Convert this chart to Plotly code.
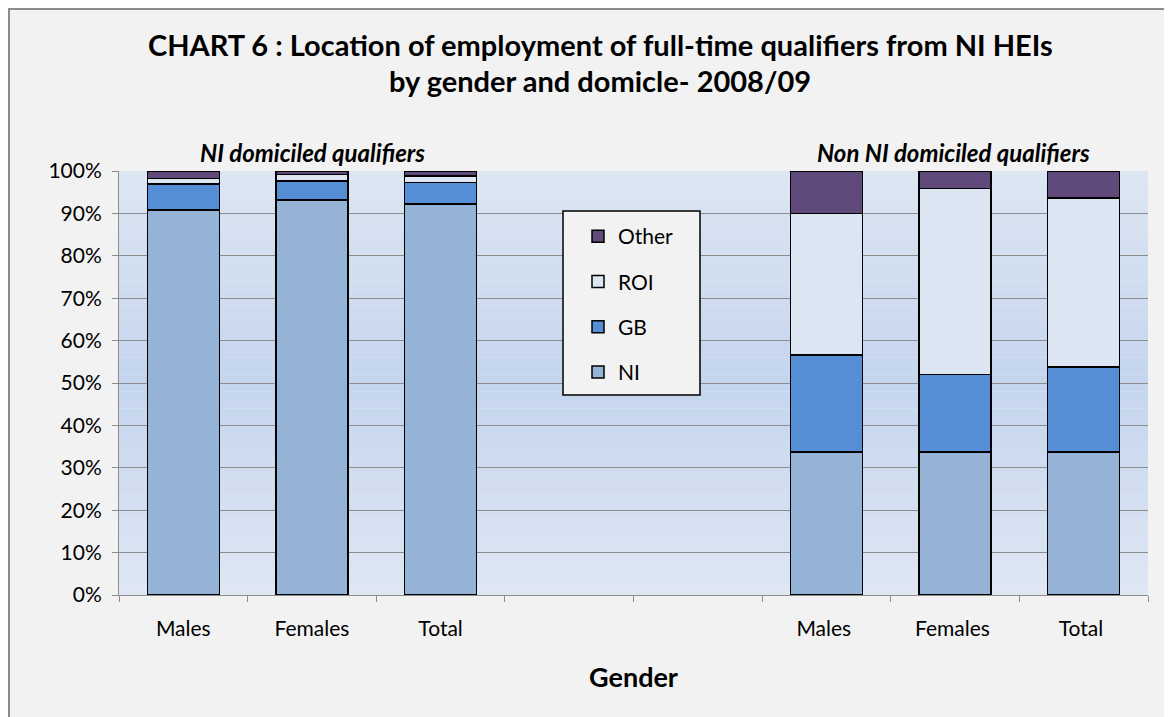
import plotly.graph_objects as go

categories = ["Males", "Females", "Total", " ", "  ", "Males ", "Females ", "Total "]
ni_vals = [90.8, 93.2, 92.2, None, None, 33.7, 33.7, 33.7]
gb_vals = [6.1, 4.5, 5.1, None, None, 22.9, 18.3, 20.1]
roi_vals = [1.3, 1.5, 1.5, None, None, 33.4, 43.9, 39.8]
other_vals = [1.8, 0.8, 1.2, None, None, 10.0, 4.1, 6.4]
series = [("NI", ni_vals, "#95b3d7", 4), ("GB", gb_vals, "#558ed5", 3),
          ("ROI", roi_vals, "#dce6f2", 2), ("Other", other_vals, "#604a7b", 1)]
y_ticks = [0, 10, 20, 30, 40, 50, 60, 70, 80, 90, 100]
y_ticklabels = [f"{v}%" for v in y_ticks]
title_lines = ["CHART 6 : Location of employment of full-time qualifiers from NI HEIs",
               "by gender and domicle- 2008/09"]
group_labels = ["NI domiciled qualifiers", "Non NI domiciled qualifiers"]

FONT = "Lato, Open Sans, sans-serif"

fig = go.Figure()
for name, vals, col, rank in series:
    fig.add_trace(go.Bar(
        x=categories, y=vals, name=name, legendgroup=name, legendrank=rank,
        marker=dict(color=col, line=dict(color="#000000", width=1.5)),
    ))

OFF = 8  # page offset of the figure
W, H = 1172, 717
L, R, T, B = 111, 32, 163, 130
PW, PH = W - L - R, H - T - B

def px(x):  # page x -> paper x
    return (x - OFF - L) / PW

def py(y):  # page y -> paper y
    return (H - B - (y - OFF)) / PH

shapes = []
# outer chart frame
shapes.append(dict(type="rect", xref="paper", yref="paper",
                   x0=px(OFF + 1), x1=px(1300), y0=py(900), y1=py(OFF + 1),
                   fillcolor="#f2f2f2", line=dict(color="#8c8c8c", width=2), layer="below"))

def lerp(c1, c2, t):
    return tuple(int(round(a + (b - a) * t)) for a, b in zip(c1, c2))

top = (220, 230, 242)
mid = (197, 213, 238)
bot = (222, 231, 243)
n = 50
for i in range(n):
    y0 = 100 * i / n
    y1 = 100 * (i + 1) / n
    f = (i + 0.5) / n
    if f < 0.5:
        c = lerp(bot, mid, f / 0.5)
    else:
        c = lerp(mid, top, (f - 0.5) / 0.5)
    shapes.append(dict(type="rect", xref="x domain", yref="y", x0=0, x1=1, y0=y0, y1=y1,
                       fillcolor="rgb(%d,%d,%d)" % c, line=dict(width=0), layer="below"))

# legend box
shapes.append(dict(type="rect", xref="paper", yref="paper",
                   x0=px(563), x1=px(700), y0=py(395), y1=py(211),
                   fillcolor="#f2f2f2", line=dict(color="#000000", width=1.5), layer="above"))

annotations = [
    dict(text=f"<b>{title_lines[0]}</b>", x=px(600), y=py(45),
         xref="paper", yref="paper", showarrow=False, xanchor="center", yanchor="middle",
         font=dict(family=FONT, size=29)),
    dict(text=f"<b>{title_lines[1]}</b>", x=px(600), y=py(80),
         xref="paper", yref="paper", showarrow=False, xanchor="center", yanchor="middle",
         font=dict(family=FONT, size=29)),
    dict(text=f"<b><i>{group_labels[0]}</i></b>", x=px(312), y=py(152),
         xref="paper", yref="paper", showarrow=False, xanchor="center", yanchor="middle",
         font=dict(family=FONT, size=24)),
    dict(text=f"<b><i>{group_labels[1]}</i></b>", x=px(953), y=py(152),
         xref="paper", yref="paper", showarrow=False, xanchor="center", yanchor="middle",
         font=dict(family=FONT, size=24)),
]

fig.update_layout(
    width=W, height=H,
    margin=dict(l=L, r=R, t=T, b=B),
    paper_bgcolor="#f2f2f2",
    plot_bgcolor="rgba(0,0,0,0)",
    barmode="stack",
    bargap=0.44,
    font=dict(family=FONT, size=21, color="#000000"),
    shapes=shapes,
    annotations=annotations,
    showlegend=True,
    legend=dict(
        x=px(578), y=py(216), xanchor="left", yanchor="top",
        bgcolor="rgba(0,0,0,0)", borderwidth=0,
        traceorder="grouped", tracegroupgap=15,
        font=dict(family=FONT, size=21, color="#000000"),
        itemwidth=30,
    ),
    xaxis=dict(
        type="category", categoryorder="array", categoryarray=categories,
        tickson="boundaries", ticks="outside", ticklen=6, tickcolor="#8c8c8c",
        showline=True, linecolor="#8c8c8c", linewidth=1,
        showgrid=False,
        ticklabelstandoff=15,
        tickfont=dict(family=FONT, size=21),
        title=dict(text="<b>Gender</b>", font=dict(family=FONT, size=27), standoff=28),
    ),
    yaxis=dict(
        range=[0, 100], tickvals=y_ticks, ticktext=y_ticklabels,
        ticks="outside", ticklen=6, tickcolor="#8c8c8c",
        showline=True, linecolor="#8c8c8c", linewidth=1,
        showgrid=True, gridcolor="#8c8c8c", gridwidth=1,
        zeroline=False,
        ticklabelstandoff=6,
        tickfont=dict(family=FONT, size=21),
    ),
)

fig.write_html("out.html")
